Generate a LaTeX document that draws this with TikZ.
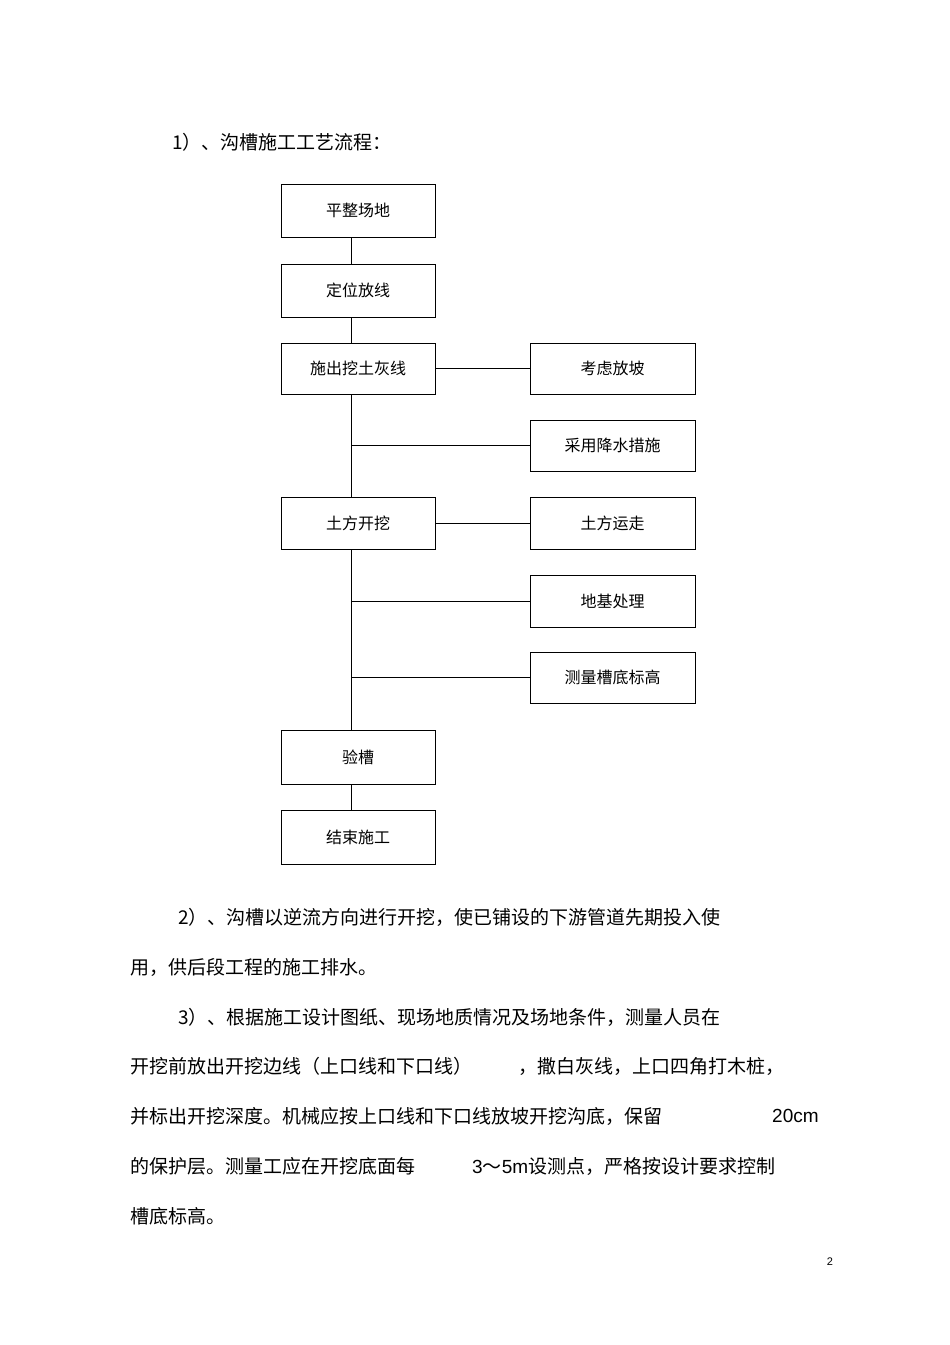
\documentclass[tikz,border=0pt]{standalone}
\usepackage{fontspec}
\setmainfont{Noto Sans CJK SC}
\newfontfamily\latn{Liberation Sans}
\begin{document}
\begin{tikzpicture}[x=1pt,y=-1pt,
  bx/.style={draw,line width=0.8pt,minimum width=154pt,font=\fontsize{16}{18}\selectfont},
  rb/.style={draw,line width=0.8pt,minimum width=165pt,font=\fontsize{16}{18}\selectfont},
  tx/.style={anchor=west,inner sep=0pt,font=\fontsize{19}{22}\selectfont},
  ln/.style={line width=0.8pt}]
\useasboundingbox (0,0) rectangle (950,1345);
\node[tx] (t) at (172,142) {1）、沟槽施工工艺流程：};
\node[bx,minimum height=53pt] (a) at (358,210.5) {平整场地};
\node[bx,minimum height=53pt] (b) at (358,290.5) {定位放线};
\node[bx,minimum height=51pt] (c) at (358,368.5) {施出挖土灰线};
\node[bx,minimum height=52pt] (d) at (358,523) {土方开挖};
\node[bx,minimum height=54pt] (e) at (358,757) {验槽};
\node[bx,minimum height=54pt] (f) at (358,837) {结束施工};
\node[rb,minimum height=51pt] (r1) at (612.5,368.5) {考虑放坡};
\node[rb,minimum height=51pt] (r2) at (612.5,445.5) {采用降水措施};
\node[rb,minimum height=52pt] (r3) at (612.5,523) {土方运走};
\node[rb,minimum height=52pt] (r4) at (612.5,601) {地基处理};
\node[rb,minimum height=51pt] (r5) at (612.5,677.5) {测量槽底标高};
\draw[ln] (a.south -| 351,0) -- (b.north -| 351,0);
\draw[ln] (b.south -| 351,0) -- (c.north -| 351,0);
\draw[ln] (c.south -| 351,0) -- (d.north -| 351,0);
\draw[ln] (d.south -| 351,0) -- (e.north -| 351,0);
\draw[ln] (e.south -| 351,0) -- (f.north -| 351,0);
\draw[ln] (c.east) -- (r1.west);
\draw[ln] (d.east) -- (r3.west);
\draw[ln] (351,445.5) -- (r2.west);
\draw[ln] (351,601) -- (r4.west);
\draw[ln] (351,677.5) -- (r5.west);
\node[tx] (p1) at (178,917) {2）、沟槽以逆流方向进行开挖，使已铺设的下游管道先期投入使};
\node[tx] (p2) at (130,967) {用，供后段工程的施工排水。};
\node[tx] (p3) at (178,1017) {3）、根据施工设计图纸、现场地质情况及场地条件，测量人员在};
\node[tx] (p4) at (130,1066) {开挖前放出开挖边线（上口线和下口线）};
\node[tx] (p4b) at (518,1066) {，撒白灰线，上口四角打木桩，};
\node[tx] (p5) at (130,1116) {并标出开挖深度。机械应按上口线和下口线放坡开挖沟底，保留};
\node[tx] (p5b) at (772,1116) {\latn 20cm};
\node[tx] (p6) at (130,1166) {的保护层。测量工应在开挖底面每};
\node[tx] (p6b) at (472,1166) {{\latn 3}～{\latn 5m}设测点，严格按设计要求控制};
\node[tx] (p7) at (130,1216) {槽底标高。};
\node[anchor=center,font=\latn\fontsize{11}{13}\selectfont] (pg) at (830,1262) {2};
\end{tikzpicture}
\end{document}
